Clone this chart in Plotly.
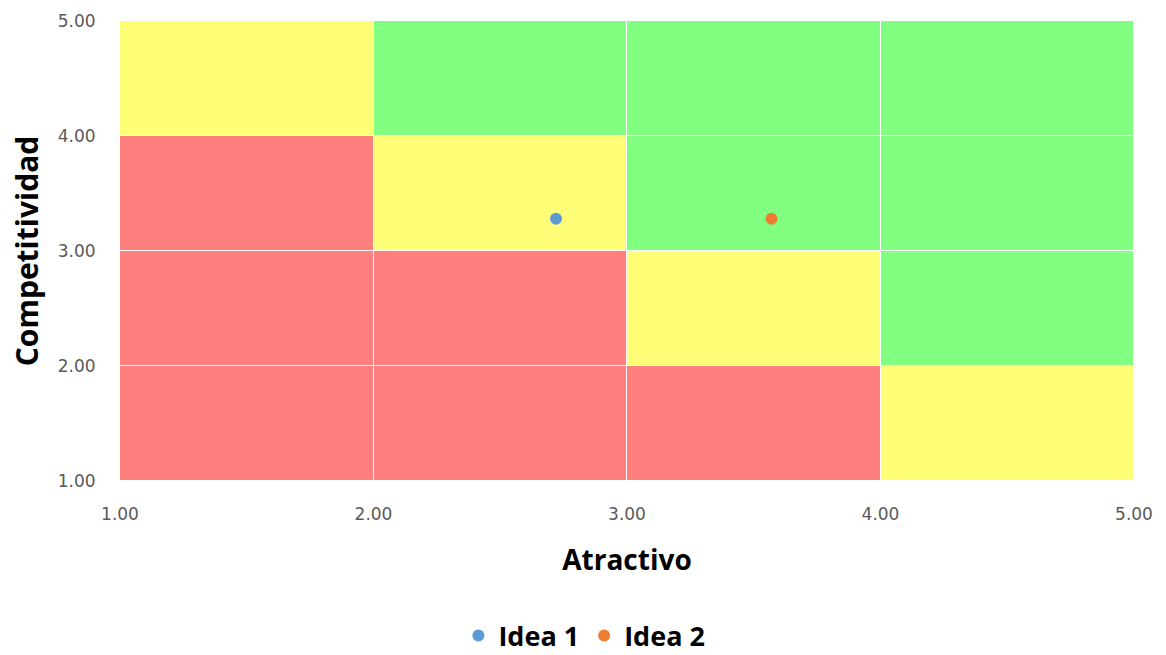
import plotly.graph_objects as go

# Zone grid: 0 = red, 1 = yellow, 2 = green (rows from bottom to top)
x_centers = [1.5, 2.5, 3.5, 4.5]
y_centers = [1.5, 2.5, 3.5, 4.5]
zones = [
    [0, 0, 0, 1],
    [0, 0, 1, 2],
    [0, 1, 2, 2],
    [1, 2, 2, 2],
]

ideas = ["Idea 1", "Idea 2"]
atractivo = [2.72, 3.57]
competitividad = [3.28, 3.28]
idea_colors = ["#5B9BD5", "#ED7D31"]

tick_vals = [1, 2, 3, 4, 5]
tick_text = ["1.00", "2.00", "3.00", "4.00", "5.00"]

fig = go.Figure()
fig.add_trace(go.Heatmap(
    x=x_centers, y=y_centers, z=zones,
    zmin=0, zmax=2,
    colorscale=[[0, "#FF7F7F"], [0.5, "#FFFF77"], [1, "#80FF80"]],
    showscale=False, xgap=1, ygap=1, hoverinfo="skip",
))
for name, xv, yv, c in zip(ideas, atractivo, competitividad, idea_colors):
    fig.add_trace(go.Scatter(
        x=[xv], y=[yv], mode="markers", name="<b>" + name + "</b>",
        marker=dict(size=12, color=c),
    ))

tick_font = dict(family="DejaVu Sans", size=17, color="#595959")
fig.update_layout(
    width=1166, height=655,
    margin=dict(l=120, r=32, t=21, b=174),
    plot_bgcolor="white", paper_bgcolor="white",
    xaxis=dict(range=[1, 5], tickvals=tick_vals, ticktext=tick_text,
               showgrid=False, zeroline=False, tickfont=tick_font, automargin=False,
               ticks="outside", ticklen=18, tickcolor="white",
               title=dict(text="<b>Atractivo</b>", standoff=26,
                          font=dict(family="Open Sans", size=28, color="black"))),
    yaxis=dict(range=[1, 5], tickvals=tick_vals, ticktext=tick_text,
               showgrid=False, zeroline=False, tickfont=tick_font, automargin=False,
               ticks="outside", ticklen=20, tickcolor="white",
               title=dict(text="<b>Competitividad</b>", standoff=10,
                          font=dict(family="Open Sans", size=30, color="black"))),
    legend=dict(orientation="h", x=0.458, xanchor="center",
                yref="container", y=0.029, yanchor="middle",
                font=dict(family="Open Sans", size=27, color="black"),
                itemsizing="constant"),
    showlegend=True,
)

fig.write_html("out.html")
